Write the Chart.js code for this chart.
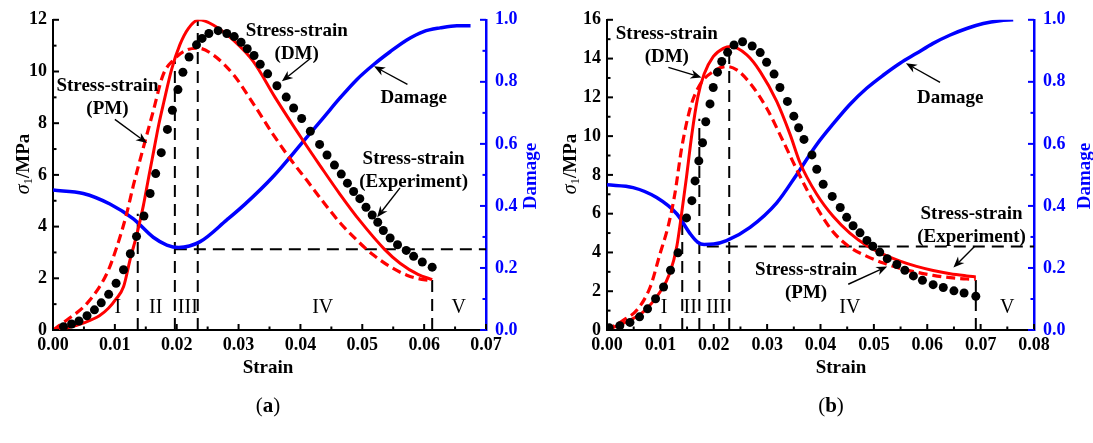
<!DOCTYPE html>
<html><head><meta charset="utf-8">
<script src="https://cdn.jsdelivr.net/npm/chart.js@4.4.1/dist/chart.umd.min.js"></script>
<style>
html,body{margin:0;padding:0;background:#fff;}
body{width:1093px;height:443px;overflow:hidden;position:relative;}
.wrap{position:absolute;top:0;height:443px;}
#wa{left:0;width:546px;} #wb{left:546px;width:547px;}
.cap{position:absolute;top:392px;width:100px;text-align:center;font:21px 'Liberation Serif',serif;color:#000;line-height:26px;}
</style></head><body>
<div class="wrap" id="wa"><canvas id="ca"></canvas></div>
<div class="wrap" id="wb"><canvas id="cb"></canvas></div>
<div class="cap" style="left:218px">(<b>a</b>)</div>
<div class="cap" style="left:781px">(<b>b</b>)</div>
<script>
// ---------------- shared tick labels ----------------
const damageTickLabels = ['0.0','0.2','0.4','0.6','0.8','1.0'];

// ---------------- panel (a) data ----------------
const strainTickLabelsA = ['0.00','0.01','0.02','0.03','0.04','0.05','0.06','0.07'];
const stressTickLabelsA = ['0','2','4','6','8','10','12'];
const experimentA = [[0.0017,0.13],[0.0030,0.23],[0.0042,0.35],[0.0055,0.55],[0.0067,0.78],[0.0078,1.05],[0.0090,1.38],[0.0102,1.81],[0.0114,2.33],[0.0125,2.95],[0.0135,3.62],[0.0147,4.41],[0.0157,5.28],[0.0166,6.05],[0.0175,6.86],[0.0185,7.76],[0.0193,8.50],[0.0202,9.30],[0.0210,9.97],[0.0220,10.56],[0.0232,11.03],[0.0241,11.28],[0.0252,11.47],[0.0267,11.58],[0.0281,11.47],[0.0293,11.35],[0.0304,11.13],[0.0314,10.88],[0.0325,10.62],[0.0335,10.28],[0.0347,9.91],[0.0362,9.45],[0.0377,9.01],[0.0389,8.59],[0.0402,8.18],[0.0416,7.69],[0.0431,7.18],[0.0443,6.77],[0.0455,6.38],[0.0466,6.03],[0.0476,5.68],[0.0486,5.36],[0.0496,5.08],[0.0506,4.75],[0.0516,4.45],[0.0525,4.17],[0.0534,3.85],[0.0545,3.56],[0.0557,3.30],[0.0571,3.08],[0.0583,2.85],[0.0597,2.63],[0.0613,2.43]];
const modelDMA = [[0,0],[0.0025,0.1],[0.0050,0.28],[0.0075,0.55],[0.0090,0.85],[0.0102,1.2],[0.0114,1.67],[0.0125,2.76],[0.0135,3.65],[0.0146,4.8],[0.0155,5.95],[0.0163,6.95],[0.0171,7.95],[0.0179,8.8],[0.0192,10.1],[0.0205,11.03],[0.0219,11.67],[0.0236,12.0],[0.0259,11.8],[0.0292,11.2],[0.0324,10.38],[0.0359,9.0],[0.0405,7.3],[0.0432,6.35],[0.0464,5.25],[0.0497,4.2],[0.0536,3.12],[0.0561,2.58],[0.0590,2.15],[0.0613,1.95]];
const modelPMA = [[0,0],[0.0022,0.38],[0.0055,1.03],[0.0087,2.18],[0.0103,3.2],[0.0119,4.49],[0.0130,5.6],[0.0146,7.05],[0.0162,8.46],[0.0178,9.87],[0.0195,10.45],[0.0216,10.83],[0.0235,10.9],[0.0259,10.64],[0.0292,9.87],[0.0324,8.75],[0.0356,7.56],[0.0386,6.54],[0.0411,5.77],[0.0437,4.95],[0.0464,4.15],[0.0491,3.48],[0.0507,3.12],[0.0518,2.9],[0.0545,2.45],[0.0572,2.12],[0.0594,1.97],[0.0613,1.9]];
const damageA = [[0,0.451],[0.0049,0.44],[0.0092,0.406],[0.0130,0.358],[0.0162,0.299],[0.0184,0.274],[0.0203,0.266],[0.0238,0.285],[0.0281,0.355],[0.0310,0.405],[0.0356,0.495],[0.0405,0.609],[0.0437,0.684],[0.0464,0.748],[0.0491,0.807],[0.0518,0.855],[0.0545,0.897],[0.0572,0.935],[0.0599,0.962],[0.0626,0.974],[0.0653,0.981],[0.0675,0.981]];
const stageLinesA = [[0.0137,4.5],[0.0197,10.4],[0.0234,12.0],[0.0613,1.95]];
const damageLevelA = [0.0197,0.07,0.26];
const stageNamesA = ['I','II','III','IV','V'];
const stageStrainA = [0.0105,0.0166,0.0218,0.0436,0.0656];

// ---------------- panel (b) data ----------------
const strainTickLabelsB = ['0.00','0.01','0.02','0.03','0.04','0.05','0.06','0.07','0.08'];
const stressTickLabelsB = ['0','2','4','6','8','10','12','14','16'];
const experimentB = [[0.0004,0.12],[0.0024,0.22],[0.0043,0.39],[0.0061,0.68],[0.0076,1.09],[0.0091,1.61],[0.0106,2.22],[0.0119,3.08],[0.0133,3.98],[0.0149,5.78],[0.0159,6.67],[0.0165,7.69],[0.0172,8.72],[0.0179,9.66],[0.0185,10.74],[0.0193,11.66],[0.0199,12.51],[0.0207,13.3],[0.0215,13.85],[0.0226,14.32],[0.0238,14.7],[0.0254,14.87],[0.0272,14.65],[0.0287,14.31],[0.0299,13.81],[0.0313,13.2],[0.0324,12.51],[0.0338,11.79],[0.0350,11.03],[0.0359,10.43],[0.0369,9.83],[0.0384,9.03],[0.0393,8.29],[0.0405,7.52],[0.0422,6.89],[0.0437,6.32],[0.0449,5.81],[0.0461,5.38],[0.0474,5.01],[0.0487,4.62],[0.0498,4.32],[0.0511,4.02],[0.0525,3.68],[0.0543,3.38],[0.0558,3.08],[0.0574,2.79],[0.0591,2.56],[0.0611,2.34],[0.0630,2.19],[0.0650,2.02],[0.0669,1.91],[0.0691,1.74]];
const modelDMB = [[0,0],[0.0037,0.43],[0.0068,0.94],[0.0099,1.95],[0.0118,2.95],[0.0131,4.35],[0.0140,6.05],[0.0149,7.9],[0.0159,10.1],[0.0170,12.0],[0.0182,13.2],[0.0199,14.1],[0.0218,14.53],[0.0232,14.62],[0.0262,14.19],[0.0287,13.33],[0.0318,11.79],[0.0343,10.09],[0.0362,8.6],[0.0393,7.0],[0.0424,5.85],[0.0455,5.0],[0.0487,4.35],[0.0518,3.9],[0.0549,3.55],[0.0580,3.28],[0.0611,3.07],[0.0643,2.9],[0.0674,2.79],[0.0691,2.74]];
const modelPMB = [[0,0],[0.0031,0.51],[0.0056,1.03],[0.0081,2.22],[0.0099,3.9],[0.0115,5.4],[0.0127,7.0],[0.0140,9.4],[0.0156,11.45],[0.0174,12.65],[0.0199,13.33],[0.0224,13.59],[0.0243,13.42],[0.0268,12.73],[0.0299,11.45],[0.0330,9.74],[0.0355,8.3],[0.0380,6.95],[0.0400,6.0],[0.0424,5.05],[0.0455,4.27],[0.0487,3.8],[0.0518,3.45],[0.0549,3.18],[0.0580,2.98],[0.0611,2.82],[0.0643,2.7],[0.0674,2.63],[0.0691,2.62]];
const damageB = [[0,0.468],[0.0049,0.459],[0.0093,0.427],[0.0131,0.374],[0.0156,0.31],[0.0170,0.283],[0.0182,0.276],[0.0200,0.277],[0.0224,0.288],[0.0268,0.331],[0.0318,0.41],[0.0355,0.50],[0.0393,0.598],[0.0424,0.665],[0.0455,0.727],[0.0487,0.78],[0.0518,0.822],[0.0549,0.86],[0.0580,0.892],[0.0611,0.924],[0.0643,0.951],[0.0674,0.972],[0.0705,0.988],[0.0736,0.997],[0.0761,1.0]];
const stageLinesB = [[0.0141,5.8],[0.0173,10.9],[0.0229,14.6],[0.0691,2.7]];
const damageLevelB = [0.0187,0.08,0.269];
const stageNamesB = ['I','II','III','IV','V'];
const stageStrainB = [0.0107,0.0156,0.0204,0.0455,0.075];

// ---------------- annotation layout (data coordinates on strain / stress axes) ----------------
const notesA = [
  {lines:['Stress-strain','(PM)'], at:[0.0088,9.42], arrow:[0.0100,8.15,0.0152,7.23]},
  {lines:['Stress-strain','(DM)'], at:[0.0394,11.58], arrow:[0.0416,10.5,0.0370,9.62]},
  {lines:['Damage'], at:[0.0583,8.96], arrow:[0.0573,9.5,0.0519,10.2]},
  {lines:['Stress-strain','(Experiment)'], at:[0.0583,6.62], arrow:[0.0561,5.5,0.0524,4.36]}
];
const notesB = [
  {lines:['Stress-strain','(DM)'], at:[0.0112,15.28], arrow:[0.0115,13.55,0.0177,13.03]},
  {lines:['Damage'], at:[0.0643,11.95], arrow:[0.0624,12.77,0.0560,13.76]},
  {lines:['Stress-strain','(Experiment)'], at:[0.0683,6.0], arrow:[0.0689,4.32,0.0649,3.22]},
  {lines:['Stress-strain','(PM)'], at:[0.0373,3.11], arrow:[0.0452,2.36,0.0525,3.28]}
];

const FONT = "'Liberation Serif','Times New Roman',serif";
const BLUE = '#0000ff', RED = '#ff0000';

const panels = {
  ca: {xLabels:strainTickLabelsA, yLabels:stressTickLabelsA, exp:experimentA, dm:modelDMA, pm:modelPMA, dmg:damageA,
       vlines:stageLinesA, hline:damageLevelA, stageNames:stageNamesA, stageX:stageStrainA, stageY:0.88,
       notes:notesA, leftW:53, rightW:60, yTitleDx:-31, y2TitleDx:45, xTitleX:268},
  cb: {xLabels:strainTickLabelsB, yLabels:stressTickLabelsB, exp:experimentB, dm:modelDMB, pm:modelPMB, dmg:damageB,
       vlines:stageLinesB, hline:damageLevelB, stageNames:stageNamesB, stageX:stageStrainB, stageY:1.13,
       notes:notesB, leftW:61, rightW:59, yTitleDx:-38, y2TitleDx:51, xTitleX:841-546}
};

function midpoints(vals){ const out=[]; for(let i=0;i<vals.length-1;i++) out.push((vals[i]+vals[i+1])/2); return out; }

function arrow(ctx,x1,y1,x2,y2){
  const a=Math.atan2(y2-y1,x2-x1), L=11, W=4.5;
  const c=Math.cos(a), s=Math.sin(a);
  ctx.lineWidth=1.4;
  ctx.beginPath(); ctx.moveTo(x1,y1); ctx.lineTo(x2-c*L*0.7,y2-s*L*0.7); ctx.stroke();
  ctx.beginPath(); ctx.moveTo(x2,y2);
  ctx.lineTo(x2-c*L+W*s, y2-s*L-W*c);
  ctx.lineTo(x2-c*L*0.7, y2-s*L*0.7);
  ctx.lineTo(x2-c*L-W*s, y2-s*L+W*c);
  ctx.closePath(); ctx.fill();
}

const deco = {
  id:'deco',
  afterDraw(chart){
    const P = panels[chart.canvas.id]; if(!P) return;
    const ctx=chart.ctx, ca=chart.chartArea;
    const sx=chart.scales.x, sy=chart.scales.y, sd=chart.scales.y2;
    ctx.save();
    const xMaj=P.xLabels.map(parseFloat), yMaj=P.yLabels.map(parseFloat), dMaj=damageTickLabels.map(parseFloat);
    ctx.lineWidth=2;
    function ticks(scale, vals, len, color, side){
      ctx.strokeStyle=color;
      vals.forEach(v=>{
        const p=scale.getPixelForValue(v);
        ctx.beginPath();
        if(side==='b'){ctx.moveTo(p,ca.bottom);ctx.lineTo(p,ca.bottom-len);}
        else if(side==='l'){ctx.moveTo(ca.left,p);ctx.lineTo(ca.left+len,p);}
        else {ctx.moveTo(ca.right,p);ctx.lineTo(ca.right-len,p);}
        ctx.stroke();
      });
    }
    ticks(sx,xMaj,6,'#000','b'); ticks(sx,midpoints(xMaj),3.5,'#000','b');
    ticks(sy,yMaj,6,'#000','l'); ticks(sy,midpoints(yMaj),3.5,'#000','l');
    ticks(sd,dMaj,6,BLUE,'r'); ticks(sd,midpoints(dMaj),3.5,BLUE,'r');

    ctx.fillStyle='#000'; ctx.textAlign='center'; ctx.textBaseline='middle';
    ctx.font=`20px ${FONT}`;
    P.stageNames.forEach((n,i)=>ctx.fillText(n, sx.getPixelForValue(P.stageX[i]), sy.getPixelForValue(P.stageY)));

    ctx.font=`bold 19px ${FONT}`; ctx.strokeStyle='#000'; ctx.fillStyle='#000';
    P.notes.forEach(n=>{
      const tx=sx.getPixelForValue(n.at[0]), ty=sy.getPixelForValue(n.at[1]);
      n.lines.forEach((t,i)=>ctx.fillText(t,tx,ty+i*23));
      const a=n.arrow;
      arrow(ctx, sx.getPixelForValue(a[0]), sy.getPixelForValue(a[1]), sx.getPixelForValue(a[2]), sy.getPixelForValue(a[3]));
    });

    ctx.font=`bold 19px ${FONT}`; ctx.textAlign='center'; ctx.textBaseline='middle';
    ctx.fillText('Strain', P.xTitleX, 368);

    ctx.save();
    ctx.translate(ca.left+P.yTitleDx, 164); ctx.rotate(-Math.PI/2);
    const f1=`italic 20px ${FONT}`, f2=`13px ${FONT}`, f3=`bold 19px ${FONT}`;
    ctx.font=f1; const w1=ctx.measureText('σ').width;
    ctx.font=f2; const w2=ctx.measureText('1').width;
    ctx.font=f3; const w3=ctx.measureText('/MPa').width;
    let px=-(w1+w2+w3)/2;
    ctx.textAlign='left'; ctx.textBaseline='alphabetic';
    ctx.font=f1; ctx.fillText('σ',px,6.5); px+=w1;
    ctx.font=f2; ctx.fillText('1',px,10); px+=w2;
    ctx.font=f3; ctx.fillText('/MPa',px,6.5);
    ctx.restore();

    ctx.save();
    ctx.translate(ca.right+P.y2TitleDx, 176); ctx.rotate(-Math.PI/2);
    ctx.fillStyle=BLUE; ctx.font=`bold 19px ${FONT}`; ctx.textAlign='center'; ctx.textBaseline='middle';
    ctx.fillText('Damage',0,0);
    ctx.restore();
    ctx.restore();
  }
};

function build(id){
  const P=panels[id];
  const pts=arr=>arr.map(([x,y])=>({x,y}));
  const ds=[
    {label:'Experiment', data:pts(P.exp), showLine:false, pointRadius:4.5, pointBackgroundColor:'#000', pointBorderWidth:0, yAxisID:'y', order:0},
    {label:'DM', data:pts(P.dm), showLine:true, borderColor:RED, borderWidth:3, pointRadius:0, cubicInterpolationMode:'monotone', yAxisID:'y', order:1},
    {label:'PM', data:pts(P.pm), showLine:true, borderColor:RED, borderWidth:3.2, borderDash:[9,5], pointRadius:0, cubicInterpolationMode:'monotone', yAxisID:'y', order:2},
    {label:'Damage', data:pts(P.dmg), showLine:true, borderColor:BLUE, borderWidth:3.5, pointRadius:0, cubicInterpolationMode:'monotone', yAxisID:'y2', order:3}
  ];
  P.vlines.forEach(([x,top])=>ds.push({data:[{x,y:0},{x,y:top}], showLine:true, borderColor:'#000', borderWidth:2, borderDash:[12,7], pointRadius:0, yAxisID:'y', order:5}));
  ds.push({data:[{x:P.hline[0],y:P.hline[2]},{x:P.hline[1],y:P.hline[2]}], showLine:true, borderColor:'#000', borderWidth:2, borderDash:[12,7], pointRadius:0, yAxisID:'y2', order:5});

  const tickFont={family:FONT, size:18, weight:'bold'};
  const xVals=P.xLabels.map(parseFloat), yVals=P.yLabels.map(parseFloat), dVals=damageTickLabels.map(parseFloat);
  new Chart(document.getElementById(id), {
    type:'scatter',
    data:{datasets:ds},
    options:{
      responsive:true, maintainAspectRatio:false, animation:false, devicePixelRatio:1,
      layout:{padding:{top:18,left:0,right:0,bottom:0}},
      plugins:{legend:{display:false}, tooltip:{enabled:false}},
      scales:{
        x:{type:'linear', min:xVals[0], max:xVals[xVals.length-1],
           grid:{display:false, drawTicks:false}, border:{display:true,color:'#000',width:2},
           afterBuildTicks:s=>{s.ticks=xVals.map(v=>({value:v}));},
           afterFit:s=>{s.height=113;},
           ticks:{font:tickFont, color:'#000', padding:5, maxRotation:0, autoSkip:false, callback:(v,i)=>P.xLabels[i]}},
        y:{type:'linear', position:'left', min:yVals[0], max:yVals[yVals.length-1],
           grid:{display:false, drawTicks:false}, border:{display:true,color:'#000',width:2},
           afterBuildTicks:s=>{s.ticks=yVals.map(v=>({value:v}));},
           afterFit:s=>{s.width=P.leftW;},
           ticks:{font:tickFont, color:'#000', padding:6, autoSkip:false, callback:(v,i)=>P.yLabels[i]}},
        y2:{type:'linear', position:'right', min:0, max:1,
           grid:{display:false, drawTicks:false}, border:{display:true,color:BLUE,width:2.5},
           afterBuildTicks:s=>{s.ticks=dVals.map(v=>({value:v}));},
           afterFit:s=>{s.width=P.rightW;},
           ticks:{font:tickFont, color:BLUE, padding:9, autoSkip:false, callback:(v,i)=>damageTickLabels[i]}}
      }
    },
    plugins:[deco]
  });
}
build('ca'); build('cb');
</script>
</body></html>
